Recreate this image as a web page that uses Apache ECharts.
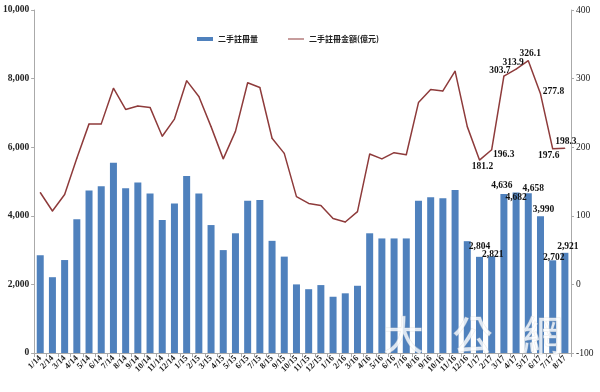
<!DOCTYPE html>
<html><head><meta charset="utf-8">
<script src="https://cdn.jsdelivr.net/npm/echarts@6/dist/echarts.min.js"></script>
<style>html,body{margin:0;padding:0;background:#fff}#c{width:600px;height:392px}</style>
</head><body><div id="c"></div>
<script>
var categories = ['1/14','2/14','3/14','4/14','5/14','6/14','7/14','8/14','9/14','10/14','11/14','12/14',
 '1/15','2/15','3/15','4/15','5/15','6/15','7/15','8/15','9/15','10/15','11/15','12/15',
 '1/16','2/16','3/16','4/16','5/16','6/16','7/16','8/16','9/16','10/16','11/16','12/16',
 '1/17','2/17','3/17','4/17','5/17','6/17','7/17','8/17'];
var regVolume = [2850,2210,2710,3900,4740,4860,5550,4800,4970,4650,3880,4360,
 5160,4650,3730,3000,3490,4440,4460,3270,2810,2000,1860,1980,
 1640,1740,1960,3490,3340,3340,3340,4440,4540,4510,4750,3260,
 2804,2821,4636,4682,4658,3990,2702,2921];
var regAmount = [134,107,131,184,234,234,286,255,260,258,216,241,
 297,274,230,183,223,294,287,213,191,128,118,115,
 96,91,106,190,183,192,189,265,284,282,311,230,
 181.2,196.3,303.7,313.9,326.1,277.8,197.6,198.3];
var leftTicks = {min:0, max:10000, interval:2000};
var rightTicks = {min:-100, max:400, interval:100};
var volLabelIdx = [36,37,38,39,40,41,42,43];
var amtLabelIdx = [36,37,38,39,40,41,42,43];

// label placement styles (not data)
var volOffsets = {36:[0,0],37:[1,8],38:[-2,2],39:[0,15],40:[5,5],41:[3,3],42:[1,7],43:[3,4]};
var amtOffsets = {36:[3,6],37:[12,5],38:[-4,-6],39:[-3,-7],40:[2,-7],41:[13,-2],42:[-4,7],43:[1,-7]};

var numFont = 'Liberation Serif';
function fmt(v){return v.toLocaleString('en-US');}

var barData = regVolume.map(function(v,i){
  if(volLabelIdx.indexOf(i)>=0){
    return {value:v,label:{show:true,position:'top',distance:5,offset:volOffsets[i],
      formatter:function(p){return fmt(p.value);},fontSize:9.5,fontWeight:'bold',color:'#111',fontFamily:numFont}};
  }
  return v;
});
var lineData = regAmount.map(function(v,i){
  if(amtLabelIdx.indexOf(i)>=0){
    return {value:v,label:{show:true,position:'inside',offset:amtOffsets[i],
      formatter:function(p){return p.value.toFixed(1);},fontSize:9.5,fontWeight:'bold',color:'#111',fontFamily:numFont}};
  }
  return v;
});

var chart = echarts.init(document.getElementById('c'));
chart.setOption({
  animation:false,
  backgroundColor:'#fff',
  grid:{left:32,right:29,top:10,bottom:39},
  legend:{top:30,left:192,itemGap:30,itemWidth:16,itemHeight:4,
    textStyle:{fontSize:8,fontWeight:'bold',color:'#222',fontFamily:'Noto Sans CJK TC'},
    data:[{name:'二手註冊量',icon:'rect'},{name:'二手註冊金額(億元)',icon:'path://M0,0 L16,0 L16,1 L0,1 Z'}]},
  xAxis:{type:'category',data:categories,
    axisLine:{lineStyle:{color:'#aaa'}},
    axisTick:{show:true,alignWithLabel:false,lineStyle:{color:'#aaa'},length:4},
    axisLabel:{interval:0,rotate:45,fontSize:8.5,fontWeight:'bold',color:'#222',fontFamily:numFont,margin:4}},
  yAxis:[
    {type:'value',min:leftTicks.min,max:leftTicks.max,interval:leftTicks.interval,
     splitLine:{show:false},
     axisLine:{show:true,lineStyle:{color:'#aaa'}},
     axisTick:{show:true,lineStyle:{color:'#aaa'},length:3},
     axisLabel:{formatter:function(v){return fmt(v);},fontSize:9.5,fontWeight:'bold',color:'#222',fontFamily:numFont,margin:5}},
    {type:'value',min:rightTicks.min,max:rightTicks.max,interval:rightTicks.interval,
     splitLine:{show:false},
     axisLine:{show:true,lineStyle:{color:'#aaa'}},
     axisTick:{show:true,lineStyle:{color:'#aaa'},length:3},
     axisLabel:{fontSize:9.5,color:'#222',fontFamily:numFont,margin:5}}
  ],
  series:[
    {name:'二手註冊量',type:'bar',data:barData,yAxisIndex:0,barWidth:7,
     itemStyle:{color:'#4F81BD'},z:2},
    {name:'二手註冊金額(億元)',type:'line',data:lineData,yAxisIndex:1,
     symbol:'circle',symbolSize:1,showSymbol:true,
     itemStyle:{color:'#8E3B3B'},lineStyle:{color:'#8E3B3B',width:1.5},z:3}
  ],
  graphic:[
    {type:'text',left:383,top:314,z:10,style:{text:'大',fontSize:40,fill:'rgba(255,255,255,0.8)',stroke:'rgba(210,210,210,0.5)',lineWidth:1,fontFamily:'Noto Sans CJK TC'}},
    {type:'text',left:452,top:314,z:10,style:{text:'公',fontSize:40,fill:'rgba(255,255,255,0.8)',stroke:'rgba(210,210,210,0.5)',lineWidth:1,fontFamily:'Noto Sans CJK TC'}},
    {type:'text',left:522,top:314,z:10,style:{text:'網',fontSize:40,fill:'rgba(255,255,255,0.8)',stroke:'rgba(210,210,210,0.5)',lineWidth:1,fontFamily:'Noto Sans CJK TC'}}
  ]
});
</script></body></html>
